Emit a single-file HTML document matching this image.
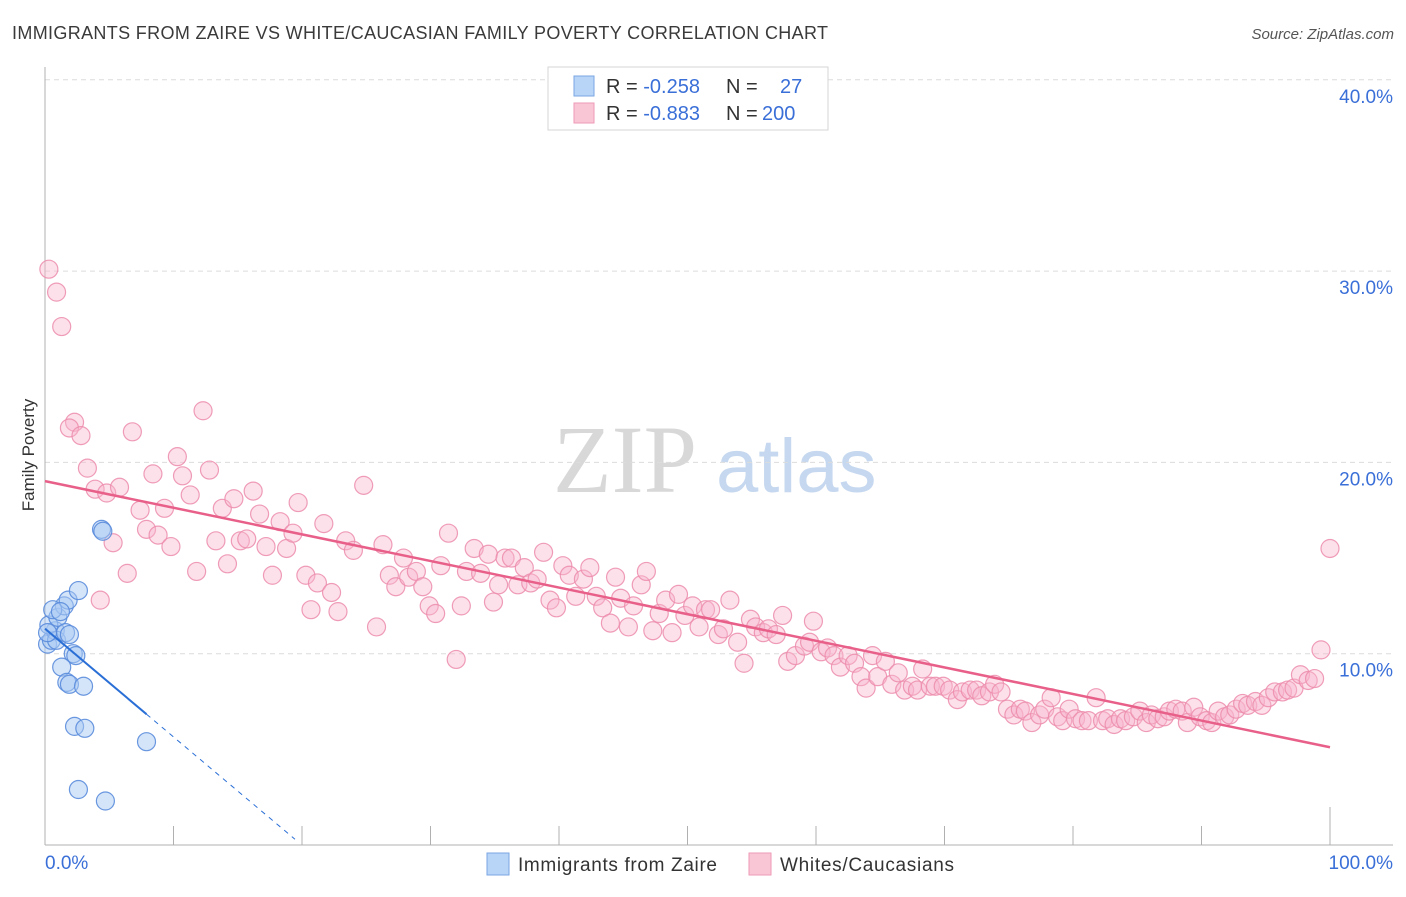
<!DOCTYPE html>
<html><head><meta charset="utf-8"><style>
body{margin:0;background:#fff;font-family:"Liberation Sans",sans-serif;}
svg text{font-family:"Liberation Sans",sans-serif;}
</style></head><body>
<svg id="chart" width="1406" height="892">
<text x="12" y="39" font-size="18" fill="#3a3a3a" textLength="816">IMMIGRANTS FROM ZAIRE VS WHITE/CAUCASIAN FAMILY POVERTY CORRELATION CHART</text>
<text x="1394" y="39" font-size="15" fill="#555" font-style="italic" text-anchor="end">Source: ZipAtlas.com</text>
<g>
<text x="553" y="492" font-size="96" fill="#d8d8d8" font-family="Liberation Serif, serif" style="font-family:'Liberation Serif',serif">ZIP</text>
<text x="716" y="492" font-size="76" fill="#c6d8ef">atlas</text>
</g>
<text transform="translate(34,455) rotate(-90)" font-size="17" fill="#333" text-anchor="middle">Family Poverty</text>
<g id="grid"></g><g id="axes"></g><g id="pinkpts"></g><g id="bluepts"></g><g id="lines"></g>
<g>
<rect x="548" y="67" width="280" height="63" fill="#fff" stroke="#d6d6d6"/>
<rect x="574" y="76" width="20" height="20" fill="#b8d4f6" stroke="#7aa6e2"/>
<text x="606" y="93" font-size="20" fill="#333">R = <tspan fill="#3a6fd8">-0.258</tspan><tspan x="726">N = </tspan><tspan x="780" fill="#3a6fd8">27</tspan></text>
<rect x="574" y="103" width="20" height="20" fill="#f9c6d6" stroke="#ee9ab6"/>
<text x="606" y="120" font-size="20" fill="#333">R = <tspan fill="#3a6fd8">-0.883</tspan><tspan x="726">N = </tspan><tspan x="762" fill="#3a6fd8">200</tspan></text>
</g>
<g>
<rect x="487" y="853" width="22" height="22" fill="#b8d4f6" stroke="#7aa6e2"/>
<text x="518" y="871" font-size="19" fill="#333" textLength="199">Immigrants from Zaire</text>
<rect x="749" y="853" width="22" height="22" fill="#f9c6d6" stroke="#ee9ab6"/>
<text x="780" y="871" font-size="19" fill="#333" textLength="174">Whites/Caucasians</text>
</g>
</svg>
<script>
const yTicks=[10,20,30,40];
const xTickVals=[0,10,20,30,40,50,60,70,80,90,100];
const pinkX=[0.3,0.9,1.3,2.3,1.9,2.8,3.3,3.9,4.8,4.3,5.3,5.8,6.4,6.8,7.4,7.9,8.4,8.8,9.3,9.8,10.3,10.7,11.3,11.8,12.3,12.8,13.3,13.8,14.2,14.7,15.2,15.7,16.2,16.7,17.2,17.7,18.3,18.8,19.3,19.7,20.3,20.7,21.2,21.7,22.3,22.8,23.4,24.0,24.8,25.8,26.3,26.8,27.3,27.9,28.3,28.9,29.4,29.9,30.4,30.8,31.4,32.0,32.4,32.8,33.4,33.9,34.5,34.9,35.3,35.8,36.3,36.8,37.3,37.8,38.3,38.8,39.3,39.8,40.3,40.8,41.3,41.9,42.4,42.9,43.4,44.0,44.4,44.8,45.4,45.8,46.4,46.8,47.3,47.8,48.3,48.8,49.3,49.8,50.4,50.9,51.4,51.8,52.4,52.8,53.3,53.9,54.4,54.9,55.3,55.9,56.3,56.9,57.4,57.8,58.4,59.1,59.5,59.8,60.4,60.9,61.4,61.9,62.5,63.0,63.5,63.9,64.4,64.8,65.4,65.9,66.4,66.9,67.5,67.9,68.3,68.9,69.3,69.9,70.4,71.0,71.4,72.0,72.5,72.9,73.5,73.9,74.4,74.9,75.4,75.9,76.3,76.8,77.4,77.8,78.3,78.8,79.2,79.7,80.2,80.7,81.2,81.8,82.3,82.7,83.2,83.7,84.1,84.7,85.2,85.7,86.1,86.6,87.1,87.5,88.0,88.5,88.9,89.4,89.9,90.4,90.8,91.3,91.8,92.2,92.7,93.2,93.6,94.2,94.7,95.2,95.7,96.3,96.7,97.2,97.7,98.3,98.8,99.3,100.0];
const pinkY=[30.1,28.9,27.1,22.1,21.8,21.4,19.7,18.6,18.4,12.8,15.8,18.7,14.2,21.6,17.5,16.5,19.4,16.2,17.6,15.6,20.3,19.3,18.3,14.3,22.7,19.6,15.9,17.6,14.7,18.1,15.9,16.0,18.5,17.3,15.6,14.1,16.9,15.5,16.3,17.9,14.1,12.3,13.7,16.8,13.2,12.2,15.9,15.4,18.8,11.4,15.7,14.1,13.5,15.0,14.0,14.3,13.5,12.5,12.1,14.6,16.3,9.7,12.5,14.3,15.5,14.2,15.2,12.7,13.6,15.0,15.0,13.6,14.5,13.7,13.9,15.3,12.8,12.4,14.6,14.1,13.0,13.9,14.5,13.0,12.4,11.6,14.0,12.9,11.4,12.5,13.6,14.3,11.2,12.1,12.8,11.1,13.1,12.0,12.5,11.4,12.3,12.3,11.0,11.3,12.8,10.6,9.5,11.8,11.4,11.1,11.3,11.0,12.0,9.6,9.9,10.4,10.6,11.7,10.1,10.3,9.9,9.3,9.9,9.5,8.8,8.2,9.9,8.8,9.6,8.4,9.0,8.1,8.3,8.1,9.2,8.3,8.3,8.3,8.1,7.6,8.0,8.1,8.1,7.8,8.0,8.4,8.0,7.1,6.8,7.1,7.0,6.4,6.8,7.1,7.7,6.7,6.5,7.1,6.6,6.5,6.5,7.7,6.5,6.6,6.3,6.6,6.5,6.7,7.0,6.4,6.8,6.6,6.7,7.0,7.1,7.0,6.4,7.2,6.7,6.5,6.4,7.0,6.7,6.8,7.1,7.4,7.3,7.5,7.3,7.7,8.0,8.0,8.1,8.2,8.9,8.6,8.7,10.2,15.5];
const blueX=[0.2,0.5,0.8,0.3,1.0,1.5,1.8,0.6,1.2,0.9,1.6,1.9,2.2,2.4,2.6,4.4,4.5,1.3,1.7,1.9,3.0,2.3,3.1,7.9,2.6,4.7,0.2];
const blueY=[10.5,10.7,11.2,11.5,11.9,12.5,12.8,12.3,12.2,10.7,11.1,11.0,10.0,9.9,13.3,16.5,16.4,9.3,8.5,8.4,8.3,6.2,6.1,5.4,2.9,2.3,11.1];
const NS='http://www.w3.org/2000/svg';
const X=v=>45+v*12.85, Y=v=>845-v*19.13;
function mk(tag,attrs,parent){const e=document.createElementNS(NS,tag);for(const k in attrs)e.setAttribute(k,attrs[k]);parent.appendChild(e);return e;}
const grid=document.getElementById('grid'),axes=document.getElementById('axes');
yTicks.forEach(t=>{
 const l=mk('line',{x1:45,x2:1393,y1:Y(t),y2:Y(t),stroke:'#dcdcdc','stroke-dasharray':'5,4'},grid);
 
 
 const tx=mk('text',{x:1393,y:Y(t)+23,'font-size':19,fill:'#3a6fd8','text-anchor':'end'},grid);
 tx.textContent=t.toFixed(1)+'%';
 
 
});
const ax=mk('line',{x1:45,x2:1393,y1:845,y2:845,stroke:'#b0b0b0'},axes);


const ay=mk('line',{x1:45,x2:45,y1:67,y2:845,stroke:'#b0b0b0'},axes);


xTickVals.forEach(t=>{
 const tk=mk('line',{x1:X(t),x2:X(t),y1:t===100?807:826,y2:845,stroke:'#b0b0b0'},axes);
 
 
});
[[0,'0.0%','start',45],[100,'100.0%','end',1393]].forEach(a=>{
 const tx=mk('text',{x:a[3],y:869,'font-size':19,fill:'#3a6fd8','text-anchor':a[2]},axes);
 tx.textContent=a[1];
 
 
});
function pts(xs,ys,g,fill,stroke,name){xs.forEach((x,i)=>{
 const c=mk('circle',{cx:X(x),cy:Y(ys[i]),r:9,fill:fill,stroke:stroke,'stroke-width':1.2},g);
 
 
});}
pts(pinkX,pinkY,document.getElementById('pinkpts'),'rgba(248,182,204,0.42)','rgba(236,140,172,0.85)','white-point');
pts(blueX,blueY,document.getElementById('bluepts'),'rgba(170,202,244,0.5)','rgba(90,140,220,0.9)','zaire-point');
function fit(xs,ys){const n=xs.length;let sx=0,sy=0,sxx=0,sxy=0;for(let i=0;i<n;i++){sx+=xs[i];sy+=ys[i];sxx+=xs[i]*xs[i];sxy+=xs[i]*ys[i];}const b=(n*sxy-sx*sy)/(n*sxx-sx*sx);return [b,(sy-b*sx)/n];}
const lg=document.getElementById('lines');
const [pb,pa]=fit(pinkX,pinkY);
const pl=mk('line',{x1:X(0),y1:Y(pa),x2:X(100),y2:Y(pa+pb*100),stroke:'#e8608a','stroke-width':2.5},lg);


const [bb,ba]=fit(blueX,blueY);
const bmax=Math.max(...blueX);
const bl=mk('line',{x1:X(0),y1:Y(ba),x2:X(bmax),y2:Y(ba+bb*bmax),stroke:'#2a6fd6','stroke-width':2},lg);


const xEnd=Math.min(100,(ba-0.3)/(-bb));
const bd=mk('line',{x1:X(bmax),y1:Y(ba+bb*bmax),x2:X(xEnd),y2:Y(ba+bb*xEnd),stroke:'#2a6fd6','stroke-width':1,'stroke-dasharray':'5,5'},lg);


</script>
</body></html>
